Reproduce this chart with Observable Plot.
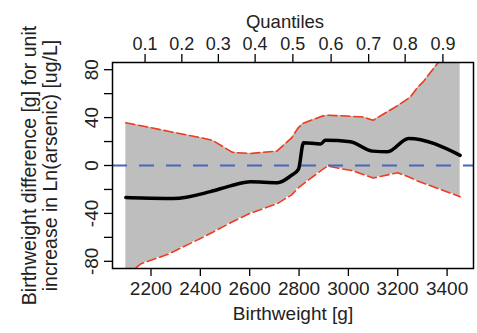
<!DOCTYPE html>
<html>
<head>
<meta charset="utf-8">
<script src="https://cdn.jsdelivr.net/npm/d3@7"></script>
<script src="https://cdn.jsdelivr.net/npm/@observablehq/plot@0.6"></script>
<style>
  html, body { margin: 0; padding: 0; background: #fff; }
  #chart svg { display: block; }
</style>
</head>
<body>
<div id="chart"></div>
<script>
// Confidence band
const bandBw = [2098, 2160, 2270, 2400, 2450, 2530, 2600, 2710, 2770, 2795, 2815, 2890, 2915, 3020, 3060, 3100, 3200, 3250, 3280, 3305, 3360, 3453];
const bandHi = [35.7, 33.2, 28.6, 23.3, 21, 11, 10, 12, 23, 31, 35, 41, 42, 41, 40.5, 37.7, 50, 57, 65, 70.4, 85, 110];
const bandLo = [-92, -82, -74, -61, -55.7, -47, -40, -32, -24.5, -19, -15.8, -4, -0.5, -4.5, -7.5, -10.5, -6, -10, -13, -14.8, -19, -26];

// Point estimate
const estBw = [2098, 2160, 2291, 2441, 2522, 2603, 2713, 2766, 2798, 2818, 2887, 2907, 3008, 3098, 3159, 3244, 3453];
const estVal = [-26.8, -27.2, -27.6, -21.8, -17, -13.5, -14.3, -8.7, -3, 19, 18, 21, 19.8, 12, 11.5, 22.6, 8.5];

// Axes
const xTicks = [2200, 2400, 2600, 2800, 3000, 3200, 3400];
const yTicks = [-80, -60, -40, -20, 0, 20, 40, 60, 80];
const yTickLabels = [-80, -40, 0, 40, 80];
const quantileBw = [2176, 2325, 2473, 2622, 2775, 2930, 3082, 3230, 3383];
const quantileLabels = ["0.1", "0.2", "0.3", "0.4", "0.5", "0.6", "0.7", "0.8", "0.9"];

const band = bandBw.map((bw, i) => ({bw, hi: bandHi[i], lo: bandLo[i]}));
const est = estBw.map((bw, i) => ({bw, v: estVal[i]}));
const qMap = new Map(quantileBw.map((b, i) => [b, quantileLabels[i]]));

const ink = "#222";
const red = "#F03A1E";

const chart = Plot.plot({
  width: 477,
  height: 333,
  marginLeft: 112,
  marginRight: 4,
  marginTop: 62,
  marginBottom: 65,
  style: {fontFamily: "'Liberation Sans', Arial, sans-serif", fontSize: "19px", color: ink, background: "#fff"},
  x: {domain: [2044, 3507]},
  y: {domain: [-86, 86]},
  marks: [
    Plot.areaY(band, {x: "bw", y1: "lo", y2: "hi", fill: "#BEBEBE", clip: true}),
    Plot.line(band, {x: "bw", y: "hi", stroke: red, strokeWidth: 1.6, strokeDasharray: "9,4", clip: true}),
    Plot.line(band, {x: "bw", y: "lo", stroke: red, strokeWidth: 1.6, strokeDasharray: "9,4", clip: true}),
    Plot.ruleY([0], {stroke: "#4866BC", strokeWidth: 2, strokeDasharray: "15,12"}),
    Plot.line(est, {x: "bw", y: "v", stroke: "black", strokeWidth: 3.5, strokeLinejoin: "round", strokeLinecap: "round", curve: "monotone-x"}),
    Plot.frame({stroke: "black", strokeWidth: 1.5}),
    Plot.axisX({anchor: "bottom", ticks: xTicks, tickSize: 8, tickPadding: 5, tickFormat: d => String(d), label: null, stroke: "black", strokeWidth: 1.3}),
    Plot.axisX({anchor: "top", ticks: quantileBw, tickSize: 9, tickPadding: 4, fontSize: 18, tickFormat: d => qMap.get(d), label: null, stroke: "black", strokeWidth: 1.3}),
    Plot.axisY({ticks: yTicks, tickSize: 8, tickFormat: () => "", label: null, stroke: "black", strokeWidth: 1.3}),
    Plot.text(yTickLabels, {y: d => d, frameAnchor: "left", textAnchor: "middle", lineAnchor: "middle", rotate: -90, dx: -21, text: d => String(d), fill: ink}),
    Plot.text(["Quantiles"], {frameAnchor: "top", dy: -48, dx: -8, text: d => d, fill: ink, fontSize: 18.5}),
    Plot.text(["Birthweight [g]"], {frameAnchor: "bottom", dy: 51, text: d => d, fill: ink}),
    Plot.text(["Birthweight difference [g] for unit"], {frameAnchor: "left", textAnchor: "middle", lineAnchor: "middle", dx: -83, rotate: -90, text: d => d, fill: ink, fontSize: 19.5}),
    Plot.text(["increase in Ln(arsenic) [ug/L]"], {frameAnchor: "left", textAnchor: "middle", lineAnchor: "middle", dx: -62, rotate: -90, text: d => d, fill: ink, fontSize: 19.5})
  ]
});
document.getElementById("chart").appendChild(chart);
</script>
</body>
</html>
